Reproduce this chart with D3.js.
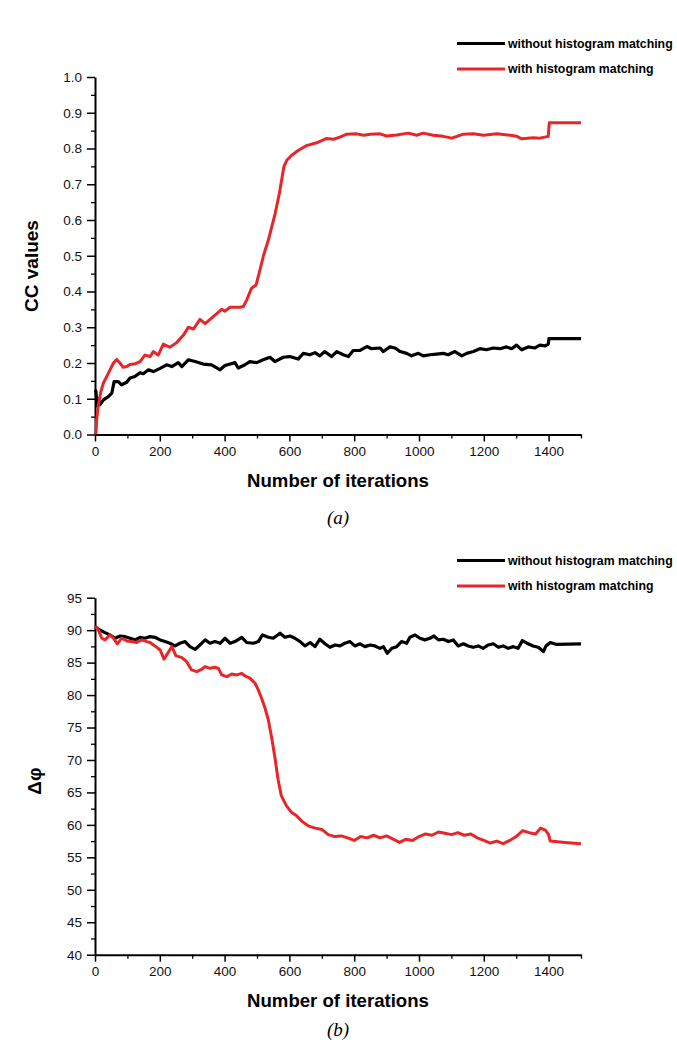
<!DOCTYPE html>
<html><head><meta charset="utf-8">
<script src="https://cdn.jsdelivr.net/npm/d3@7"></script>
<style>body{margin:0;background:#fff}svg{display:block}</style>
</head><body>
<script>
// ---------- DATA ----------
const xMajorTicks = [0,200,400,600,800,1000,1200,1400];
const xMinorTicks = [100,300,500,700,900,1100,1300,1500];
const yTicksA = [0,0.1,0.2,0.3,0.4,0.5,0.6,0.7,0.8,0.9,1.0];
const yTicksB = [40,45,50,55,60,65,70,75,80,85,90,95];
const seriesNames = ["without histogram matching","with histogram matching"];

// (a) CC values, without histogram matching
const ccWithoutIter = [0,3,6,10,15,26,41,52,59,72,82,98,108,123,139,149,165,180,201,221,237,257,268,288,309,334,360,386,401,432,442,463,478,499,519,540,555,581,601,627,643,663,679,694,709,730,746,766,782,797,818,839,854,880,890,910,926,942,962,977,998,1013,1034,1054,1075,1090,1111,1132,1147,1168,1188,1208,1229,1250,1270,1286,1301,1317,1337,1358,1373,1389,1399,1401,1500];
const ccWithoutVal = [0.125,0.12,0.08,0.1,0.083,0.097,0.106,0.116,0.148,0.148,0.139,0.146,0.158,0.162,0.173,0.17,0.181,0.176,0.185,0.195,0.19,0.201,0.19,0.209,0.204,0.197,0.195,0.181,0.193,0.201,0.186,0.195,0.204,0.201,0.209,0.216,0.204,0.216,0.218,0.211,0.227,0.223,0.229,0.22,0.232,0.218,0.232,0.223,0.218,0.235,0.235,0.246,0.24,0.242,0.232,0.245,0.242,0.232,0.227,0.22,0.227,0.22,0.223,0.225,0.227,0.223,0.232,0.22,0.227,0.232,0.24,0.237,0.242,0.24,0.245,0.24,0.25,0.237,0.245,0.242,0.25,0.248,0.253,0.268,0.268];

// (a) CC values, with histogram matching
const ccWithIter = [0,3,5,10,18,26,41,57,67,77,87,98,108,125,139,154,170,180,195,211,231,252,273,288,304,324,340,365,391,401,417,448,458,468,483,497,509,520,535,556,569,583,592,607,628,653,684,715,736,756,777,808,829,849,880,900,931,967,993,1013,1044,1075,1101,1137,1168,1199,1240,1281,1302,1317,1353,1373,1399,1402,1500];
const ccWithVal = [0.0,0.004,0.04,0.08,0.12,0.144,0.171,0.2,0.21,0.2,0.188,0.19,0.196,0.198,0.204,0.222,0.218,0.232,0.222,0.253,0.244,0.257,0.278,0.3,0.295,0.322,0.31,0.33,0.35,0.345,0.356,0.356,0.358,0.376,0.409,0.418,0.46,0.5,0.544,0.618,0.674,0.749,0.767,0.781,0.795,0.808,0.816,0.828,0.826,0.832,0.84,0.841,0.837,0.84,0.841,0.835,0.838,0.843,0.837,0.843,0.837,0.834,0.829,0.84,0.841,0.837,0.841,0.837,0.834,0.827,0.83,0.829,0.834,0.872,0.872];

// (b) delta phi, without histogram matching
const dpWithoutIter = [0,3,15,31,46,62,77,93,108,124,139,154,170,185,201,216,231,247,262,278,293,309,324,340,355,370,386,401,417,432,453,468,489,504,517,535,550,571,586,602,617,633,648,664,679,694,710,725,741,756,771,787,802,818,833,849,864,880,890,902,916,931,946,962,972,988,1003,1018,1034,1046,1060,1075,1091,1106,1121,1137,1152,1167,1183,1198,1214,1229,1245,1260,1275,1291,1306,1319,1337,1352,1368,1384,1392,1405,1425,1500];
const dpWithoutVal = [90.2,90.45,90.03,89.62,89.26,88.75,89.1,89.0,88.75,88.5,88.9,88.75,89.0,88.9,88.5,88.24,87.98,87.57,87.98,88.24,87.46,87.05,87.72,88.5,87.98,88.24,87.98,88.75,87.98,88.24,88.9,88.1,87.98,88.24,89.26,88.9,88.75,89.52,88.9,89.1,88.75,88.24,87.57,88.1,87.46,88.6,87.9,87.36,87.72,87.57,87.98,88.24,87.57,87.9,87.46,87.72,87.57,87.2,87.46,86.44,87.2,87.46,88.24,87.98,88.9,89.26,88.75,88.5,88.75,89.1,88.5,88.6,88.24,88.5,87.57,87.9,87.57,87.36,87.57,87.2,87.72,87.9,87.36,87.57,87.2,87.46,87.2,88.4,87.9,87.57,87.36,86.7,87.57,88.1,87.8,87.9];

// (b) delta phi, with histogram matching
const dpWithIter = [0,3,10,21,31,46,57,69,82,98,113,129,144,160,170,185,201,213,223,237,250,267,283,298,314,329,340,355,370,381,391,407,422,438,453,463,478,494,504,514,525,535,545,555,565,575,590,605,620,640,660,680,700,720,740,760,780,800,820,840,860,880,900,920,940,960,980,1000,1020,1040,1060,1080,1100,1120,1140,1160,1180,1200,1220,1240,1260,1280,1300,1320,1340,1360,1375,1390,1400,1405,1450,1500];
const dpWithVal = [90.3,90.45,90.03,88.75,88.5,89.26,88.75,87.87,88.75,88.34,88.24,88.1,88.5,88.24,88.1,87.57,86.95,85.52,86.33,87.46,86.03,85.8,85.15,83.87,83.6,83.97,84.38,84.12,84.28,84.1,83.1,82.84,83.25,83.1,83.35,82.94,82.6,81.82,80.79,79.5,77.97,76.16,73.5,70.5,67.0,64.5,63.0,62.0,61.5,60.5,59.8,59.5,59.3,58.5,58.2,58.3,58.0,57.6,58.2,58.0,58.4,58.0,58.3,57.8,57.3,57.8,57.6,58.2,58.6,58.4,58.9,58.7,58.5,58.8,58.4,58.6,58.0,57.6,57.2,57.5,57.1,57.6,58.2,59.1,58.8,58.6,59.5,59.2,58.5,57.5,57.3,57.1];

// ---------- DRAW ----------
const W = 677, H = 1047;
const RED = "#e8262a", BLACK = "#000";
const FONT = "Arial, 'Liberation Sans', sans-serif";
const svg = d3.select("body").append("svg").attr("width", W).attr("height", H)
  .style("font-family", FONT);
svg.append("rect").attr("width", W).attr("height", H).attr("fill", "#fff");

function panel(opt) {
  const x = d3.scaleLinear().domain([0, 1500]).range([95, 581]);
  const y = d3.scaleLinear().domain(opt.yDomain).range([opt.yBottom, opt.yTop]);
  const g = svg.append("g");

  // minor ticks
  const minorY = [];
  for (let i = 0; i < opt.yTicks.length - 1; i++) minorY.push((opt.yTicks[i] + opt.yTicks[i + 1]) / 2);
  g.append("g").attr("transform", `translate(95,0)`)
    .call(d3.axisLeft(y).tickValues(minorY).tickSize(4).tickFormat(""))
    .call(s => s.select(".domain").remove())
    .call(s => s.selectAll("line").attr("stroke-width", 1.3));
  g.append("g").attr("transform", `translate(0,${opt.yBottom})`)
    .call(d3.axisBottom(x).tickValues(xMinorTicks).tickSize(4).tickFormat(""))
    .call(s => s.select(".domain").remove())
    .call(s => s.selectAll("line").attr("stroke-width", 1.3));

  // major axes
  const ya = g.append("g").attr("transform", `translate(95,0)`)
    .call(d3.axisLeft(y).tickValues(opt.yTicks).tickSize(8).tickSizeOuter(0).tickPadding(5).tickFormat(opt.fmt));
  const xa = g.append("g").attr("transform", `translate(0,${opt.yBottom})`)
    .call(d3.axisBottom(x).tickValues(xMajorTicks).tickSize(7).tickSizeOuter(0).tickPadding(5).tickFormat(d3.format("d")));
  [ya, xa].forEach(a => {
    a.select(".domain").attr("stroke-width", 2);
    a.selectAll("line").attr("stroke-width", 1.5);
    a.selectAll("text").attr("font-size", 13.5).attr("fill", "#111")
      .style("font-family", FONT);
  });

  // lines
  const line = d3.line().x(d => x(d[0])).y(d => y(d[1]));
  const blackData = opt.blackIter.map((t, i) => [t, opt.blackVal[i]]);
  const redData = opt.redIter.map((t, i) => [t, opt.redVal[i]]);
  const clipId = "clip" + opt.id;
  svg.append("clipPath").attr("id", clipId).append("rect")
    .attr("x", 94).attr("y", opt.yTop - 5).attr("width", 490).attr("height", opt.yBottom - opt.yTop + 5);
  const lg = g.append("g").attr("clip-path", `url(#${clipId})`);
  [[blackData, BLACK, 3.2], [redData, RED, 3]].forEach(([d, c, w]) => lg.append("path").datum(d).attr("d", line)
    .attr("fill", "none").attr("stroke", c).attr("stroke-width", w).attr("stroke-linejoin", "round"));

  // axis titles
  g.append("text").attr("x", 338).attr("y", opt.yBottom + 52).attr("text-anchor", "middle")
    .attr("font-size", 18.6).attr("font-weight", "bold").text("Number of iterations");
  g.append("text").attr("transform", `translate(${opt.yTitleX},${opt.yTitleY}) rotate(-90)`)
    .attr("text-anchor", "middle").attr("font-size", 19).attr("font-weight", "bold").text(opt.yTitle);
  g.append("text").attr("x", 338).attr("y", opt.capY).attr("text-anchor", "middle")
    .attr("font-size", 19).attr("font-style", "italic")
    .style("font-family", "'Liberation Serif', 'Times New Roman', serif")
    .text(opt.caption);

  // legend
  const lgY = opt.legendY;
  [[BLACK, seriesNames[0]], [RED, seriesNames[1]]].forEach(([c, name], i) => {
    const yy = lgY + i * 25.5;
    g.append("line").attr("x1", 457).attr("x2", 505).attr("y1", yy).attr("y2", yy)
      .attr("stroke", c).attr("stroke-width", 3);
    g.append("text").attr("x", 508).attr("y", yy + 4.3).attr("font-size", 12.3)
      .attr("font-weight", "bold").text(name);
  });
}

panel({
  id: "a", yDomain: [0, 1], yTop: 77, yBottom: 434.5, yTicks: yTicksA, fmt: d3.format(".1f"),
  yTitle: "CC values", yTitleX: 38, yTitleY: 266, caption: "(a)", capY: 524, legendY: 43.5,
  blackIter: ccWithoutIter, blackVal: ccWithoutVal, redIter: ccWithIter, redVal: ccWithVal
});
panel({
  id: "b", yDomain: [40, 95], yTop: 597.7, yBottom: 954.7, yTicks: yTicksB, fmt: d3.format("d"),
  yTitle: "Δφ", yTitleX: 41, yTitleY: 781, caption: "(b)", capY: 1036, legendY: 560.5,
  blackIter: dpWithoutIter, blackVal: dpWithoutVal, redIter: dpWithIter, redVal: dpWithVal
});
</script>
</body></html>
